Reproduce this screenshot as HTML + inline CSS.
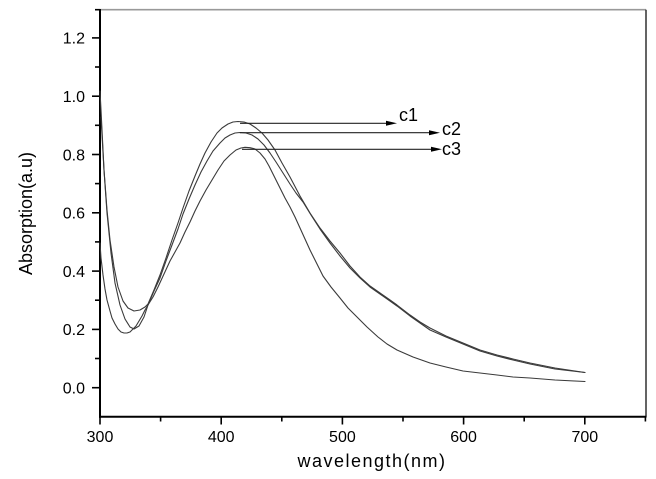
<!DOCTYPE html>
<html>
<head>
<meta charset="utf-8">
<style>
  html,body{margin:0;padding:0;background:#fff;}
  svg{display:block;}
  text{font-family:"Liberation Sans",Arial,sans-serif;fill:#000;}
</style>
</head>
<body>
<svg width="656" height="479" viewBox="0 0 656 479" xmlns="http://www.w3.org/2000/svg">
  <rect x="0" y="0" width="656" height="479" fill="#fff"/>

  <!-- frame -->
  <line x1="100" y1="9.7" x2="646" y2="9.7" stroke="#999" stroke-width="1.6"/>
  <line x1="646" y1="9.7" x2="646" y2="416.7" stroke="#222" stroke-width="1.4"/>
  <line x1="100" y1="9" x2="100" y2="417.7" stroke="#000" stroke-width="2"/>
  <line x1="99" y1="416.7" x2="646.5" y2="416.7" stroke="#000" stroke-width="2"/>

  <!-- y ticks -->
  <g stroke="#000" stroke-width="1.6">
    <line x1="92" y1="387.7" x2="100" y2="387.7"/>
    <line x1="92" y1="329.4" x2="100" y2="329.4"/>
    <line x1="92" y1="271.1" x2="100" y2="271.1"/>
    <line x1="92" y1="212.8" x2="100" y2="212.8"/>
    <line x1="92" y1="154.5" x2="100" y2="154.5"/>
    <line x1="92" y1="96.2" x2="100" y2="96.2"/>
    <line x1="92" y1="37.9" x2="100" y2="37.9"/>
    <line x1="95" y1="358.5" x2="100" y2="358.5"/>
    <line x1="95" y1="300.2" x2="100" y2="300.2"/>
    <line x1="95" y1="241.9" x2="100" y2="241.9"/>
    <line x1="95" y1="183.6" x2="100" y2="183.6"/>
    <line x1="95" y1="125.3" x2="100" y2="125.3"/>
    <line x1="95" y1="67.0" x2="100" y2="67.0"/>
    <line x1="95" y1="9.7" x2="100" y2="9.7"/>
  </g>
  <!-- x ticks -->
  <g stroke="#000" stroke-width="1.6">
    <line x1="100" y1="416.7" x2="100" y2="424.5"/>
    <line x1="221.2" y1="416.7" x2="221.2" y2="424.5"/>
    <line x1="342.4" y1="416.7" x2="342.4" y2="424.5"/>
    <line x1="463.6" y1="416.7" x2="463.6" y2="424.5"/>
    <line x1="584.8" y1="416.7" x2="584.8" y2="424.5"/>
    <line x1="160.6" y1="416.7" x2="160.6" y2="421.5"/>
    <line x1="281.8" y1="416.7" x2="281.8" y2="421.5"/>
    <line x1="403" y1="416.7" x2="403" y2="421.5"/>
    <line x1="524.2" y1="416.7" x2="524.2" y2="421.5"/>
    <line x1="645.4" y1="416.7" x2="645.4" y2="421.5"/>
  </g>

  <!-- y tick labels -->
  <g font-size="16" text-anchor="end">
    <text x="85" y="393.5">0.0</text>
    <text x="85" y="335.2">0.2</text>
    <text x="85" y="276.9">0.4</text>
    <text x="85" y="218.6">0.6</text>
    <text x="85" y="160.3">0.8</text>
    <text x="85" y="102">1.0</text>
    <text x="85" y="43.7">1.2</text>
  </g>
  <!-- x tick labels -->
  <g font-size="16" text-anchor="middle">
    <text x="100" y="442">300</text>
    <text x="221.2" y="442">400</text>
    <text x="342.4" y="442">500</text>
    <text x="463.6" y="442">600</text>
    <text x="584.8" y="442">700</text>
  </g>

  <!-- axis titles -->
  <text x="372" y="467" font-size="18" text-anchor="middle" letter-spacing="1.5">wavelength(nm)</text>
  <text transform="translate(32,213.5) rotate(-90)" font-size="18" text-anchor="middle">Absorption(a.u)</text>

  <!-- curves -->
  <g fill="none" stroke="#3a3a3a" stroke-width="1.1" stroke-linejoin="round" stroke-linecap="round">
    <polyline points="100,91 101,110 102,130 104,170 107,210 110,240 114,267 118,287 123,301 128,308 134,311 140,310 145,307 148,304 154,290 160,275 166,258 172,240 178,223 183,208 189,191 195,176 200,164 205,153 211,142 217,133 222,128 228,124 233,122 238,121.5 244,122 250,124 256,128 262,133 268,140 275,150 282,163 290,177 300,196 310,213 320,228 330,241 340,253 350,266 360,277 370,286 380,293 390,300 397,305 410,315 420,322 430,328 446,336 463,343 480,350 497,355 513,359 530,363 555,368 585,372.5"/>
    <polyline points="101,117 102,135 104,170 107,213 111,253 115,283 120,305 125,319 130,327 134,329 139,326 144,317 148,305 154,291 160,278 166,261 172,245 178,229 183,214 189,199 195,185 201,172 207,161 213,151 220,143 225,138 230,135 235,133 240,132.5 246,133 252,135 258,139 264,145 270,153 276,162 283,173 290,184 296,193 303,202 311,215 320,229 330,243 340,256 350,268 360,278 370,287 380,294 390,301 397,306 410,316 420,323 430,330 446,337 463,344 480,351 497,356 513,360 530,364 555,369 585,372.5"/>
    <polyline points="100,243 101,258 103,275 105,289 107,300 110,311 112,318 115,324 118,329 121,332 124,333 127,333 130,332 133,329 136,326 139,321 142,316 145,310 148,305 153,297 158,287 164,274 170,261 175,252 180,243 185,232 190,222 195,211 200,201 206,190 212,180 218,170 224,161 230,155 236,150 241,148 245,147.3 250,147.7 255,149 260,153 265,159 269,166 273,174 279,186 285,198 290,207 295,217 300,228 305,239 310,250 316,262 323,276 331,287 340,298 348,308 357,317 367,327 378,337 387,344 397,350 413,357 430,363 446,367 463,371 480,373 497,375 513,377 530,378 555,380 585,381.5"/>
  </g>

  <!-- annotation arrows -->
  <g stroke="#222" stroke-width="1.1">
    <line x1="240" y1="123.3" x2="388" y2="123.3"/>
    <line x1="240" y1="132.7" x2="431" y2="132.7"/>
    <line x1="242" y1="149.3" x2="434" y2="149.3"/>
  </g>
  <g fill="#000">
    <polygon points="386,120.8 397,123.3 386,125.8"/>
    <polygon points="429,130.2 440,132.7 429,135.2"/>
    <polygon points="431,146.8 442,149.3 431,151.8"/>
  </g>
  <g font-size="18">
    <text x="399" y="121">c1</text>
    <text x="442" y="135">c2</text>
    <text x="442" y="155">c3</text>
  </g>
</svg>
</body>
</html>
